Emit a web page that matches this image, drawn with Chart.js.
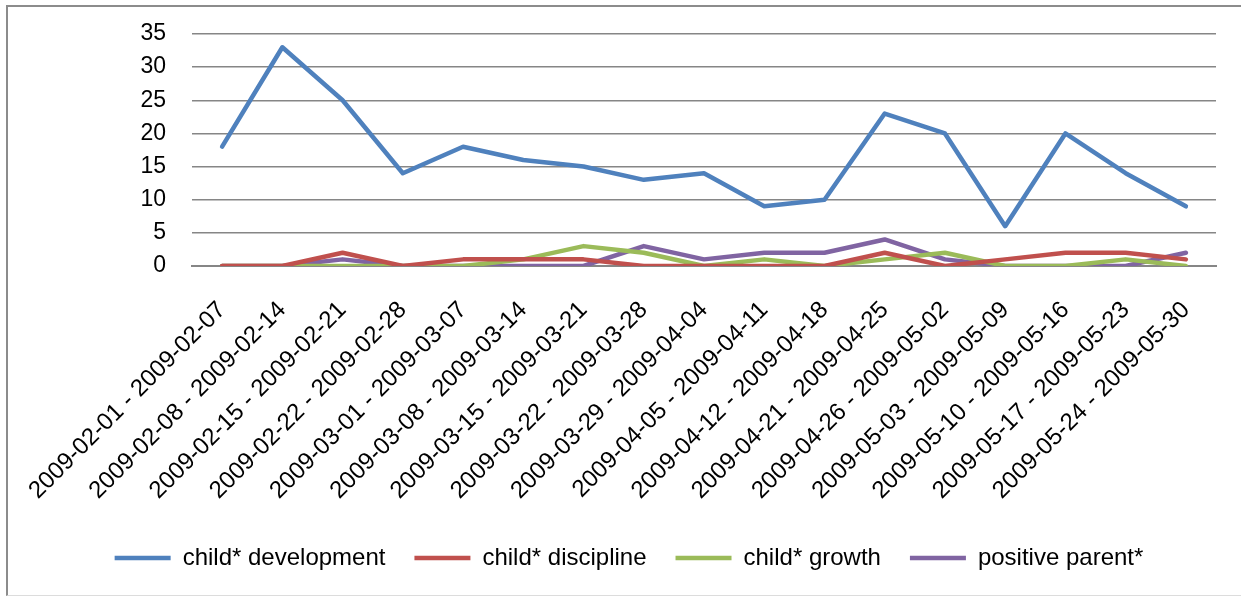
<!DOCTYPE html>
<html>
<head>
<meta charset="utf-8">
<script src="https://cdn.jsdelivr.net/npm/chart.js@4"></script>
<style>
  html, body { margin: 0; padding: 0; background: #fff; overflow: hidden; }
  #wrap { position: relative; width: 1241px; height: 596px; overflow: hidden; }
  #frame { position: absolute; left: 6px; top: 5px; width: 1300px; height: 588px;
           border-left: 2px solid #8c8c8c; border-top: 2px solid #8c8c8c; border-bottom: 1px solid #dcdcdc; }
  canvas { position: absolute; left: 0; top: 0; }
</style>
</head>
<body>
<div id="wrap">
  <div id="frame"></div>
  <canvas id="chart" width="1241" height="596"></canvas>
</div>
<script>
// weekly counts per search term
const weeks = [
  '2009-02-01 - 2009-02-07', '2009-02-08 - 2009-02-14', '2009-02-15 - 2009-02-21',
  '2009-02-22 - 2009-02-28', '2009-03-01 - 2009-03-07', '2009-03-08 - 2009-03-14',
  '2009-03-15 - 2009-03-21', '2009-03-22 - 2009-03-28', '2009-03-29 - 2009-04-04',
  '2009-04-05 - 2009-04-11', '2009-04-12 - 2009-04-18', '2009-04-21 - 2009-04-25',
  '2009-04-26 - 2009-05-02', '2009-05-03 - 2009-05-09', '2009-05-10 - 2009-05-16',
  '2009-05-17 - 2009-05-23', '2009-05-24 - 2009-05-30'
];
const childDevelopment = [18, 33, 25, 14, 18, 16, 15, 13, 14, 9, 10, 23, 20, 6, 20, 14, 9];
const childDiscipline  = [0, 0, 2, 0, 1, 1, 1, 0, 0, 0, 0, 2, 0, 1, 2, 2, 1];
const childGrowth      = [0, 0, 0, 0, 0, 1, 3, 2, 0, 1, 0, 1, 2, 0, 0, 1, 0];
const positiveParent   = [0, 0, 1, 0, 0, 0, 0, 3, 1, 2, 2, 4, 1, 0, 0, 0, 2];

const FONT = "'Liberation Sans', Arial, sans-serif";

function line(label, data, color) {
    return {
        label: label,
        data: data,
        borderColor: color,
        backgroundColor: color,
        borderWidth: 4.5,
        borderJoinStyle: 'round',
        borderCapStyle: 'round',
        pointRadius: 0,
        tension: 0,
        fill: false
    };
}

const ctx = document.getElementById('chart').getContext('2d');
new Chart(ctx, {
    type: 'line',
    data: {
        labels: weeks,
        datasets: [
            line('child* development', childDevelopment, '#4F81BD'),
            line('child* discipline', childDiscipline, '#C0504D'),
            line('child* growth', childGrowth, '#9BBB59'),
            line('positive parent*', positiveParent, '#8064A2')
        ]
    },
    options: {
        responsive: false,
        animation: false,
        layout: { padding: { left: 42, right: 25, top: 34, bottom: 16 } },
        plugins: {
            tooltip: { enabled: false },
            legend: {
                position: 'bottom',
                labels: {
                    usePointStyle: true,
                    pointStyle: 'line',
                    pointStyleWidth: 56,
                    color: '#000',
                    padding: 29,
                    font: { family: FONT, size: 24 }
                }
            }
        },
        scales: {
            x: {
                offset: true,
                grid: { display: false, drawTicks: false },
                border: { display: true, color: '#868686', width: 2 },
                ticks: {
                    color: '#000',
                    autoSkip: false,
                    maxRotation: 45,
                    minRotation: 45,
                    padding: 30,
                    font: { family: FONT, size: 24 }
                },
                // fixed band for the rotated labels
                afterFit: (scale) => {
                    scale.paddingLeft = 0;
                    scale.height = 251;
                }
            },
            y: {
                min: 0,
                max: 35,
                grid: { color: '#868686', lineWidth: 1.5, drawTicks: false },
                border: { display: false },
                ticks: {
                    stepSize: 5,
                    autoSkip: false,
                    color: '#000',
                    padding: 26,
                    font: { family: FONT, size: 23 }
                },
                afterFit: (scale) => {
                    scale.width = 150;
                    scale.paddingTop = 0;
                    scale.paddingBottom = 0;
                }
            }
        }
    }
});
</script>
</body>
</html>
